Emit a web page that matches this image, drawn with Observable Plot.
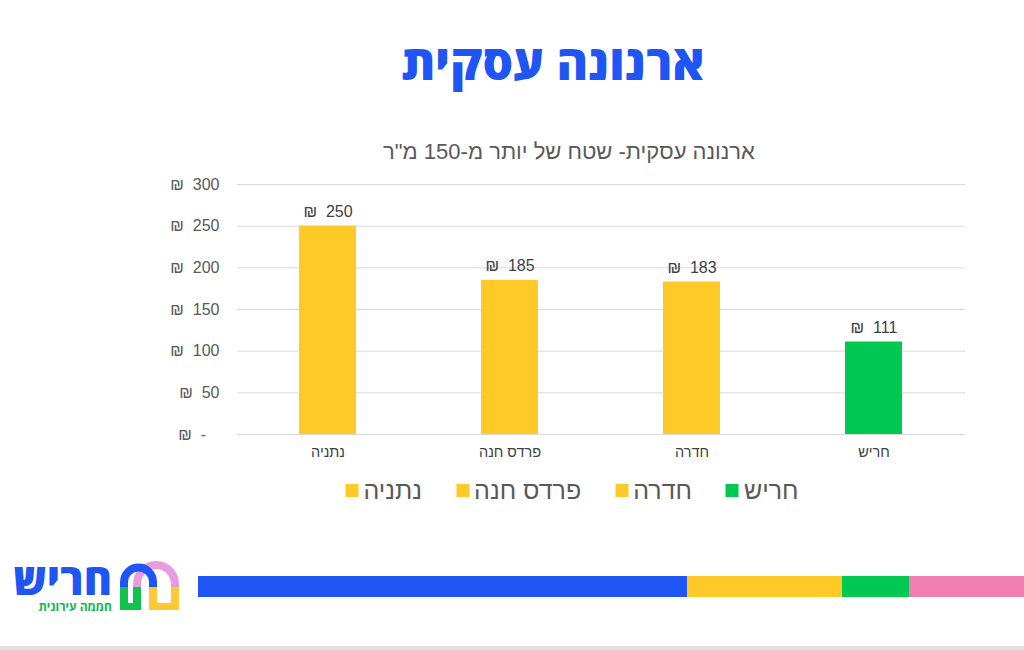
<!DOCTYPE html>
<html lang="he">
<head>
<meta charset="utf-8">
<script src="https://cdn.jsdelivr.net/npm/d3@7"></script>
<script src="https://cdn.jsdelivr.net/npm/@observablehq/plot@0.6"></script>
<style>
  html, body { margin: 0; padding: 0; background: #fff; }
  #page { position: relative; width: 1024px; height: 650px; overflow: hidden; background: #fff; font-family: "Liberation Sans", Arial, sans-serif; }
  #title { position: absolute; top: 29px; left: 553px; transform: translateX(-50%); white-space: nowrap; font-family: "Open Sans", "DejaVu Sans", sans-serif; font-weight: 800; font-size: 48px; color: #1F55F2; direction: rtl; }
  #subtitle { position: absolute; top: 139px; left: 569px; transform: translateX(-50%); white-space: nowrap; font-size: 22px; color: #595959; direction: rtl; }
  #chart { position: absolute; left: 140px; top: 160px; }
  #legend { position: absolute; top: 476px; left: 572px; transform: translateX(-50%); display: flex; direction: rtl; gap: 34px; font-size: 25px; color: #595959; white-space: nowrap; align-items: center; }
  #legend .item { display: flex; align-items: center; gap: 5px; }
  #legend .sw { width: 13px; height: 13px; display: inline-block; }
  #bar { position: absolute; top: 576px; left: 198px; height: 21px; width: 826px; display: flex; }
  #bottomline { position: absolute; left: 0; top: 646px; width: 1024px; height: 4px; background: #e2e2e0; }
  #logo { position: absolute; left: 0; top: 550px; }
</style>
</head>
<body>
<div id="page">
  <div id="title">ארנונה עסקית</div>
  <div id="subtitle">ארנונה עסקית- שטח של יותר מ-150 מ"ר</div>
  <div id="chart"></div>
  <div id="legend"></div>
  <div id="bar"></div>
  <svg id="logo" width="200" height="70" viewBox="0 550 200 70">
    <text x="112" y="595" text-anchor="end" font-family="Open Sans, DejaVu Sans, sans-serif" font-weight="800" font-size="43" fill="#1F55F2">חריש</text>
    <text x="112" y="611" text-anchor="end" font-family="Open Sans, DejaVu Sans, sans-serif" font-weight="700" font-size="12" fill="#12B84A">חממה עירונית</text>
    <path d="M137,600 V584 A19,19 0 0 1 175,584 V600" fill="none" stroke="#E99BE0" stroke-width="8"/>
    <path d="M124,600 V582 A14.5,14.5 0 0 1 153,582 V600" fill="none" stroke="#1F55F2" stroke-width="8"/>
    <path d="M120,587 H128 V603 H133 V587 H141 V610 H120 Z" fill="#12C24E"/>
    <path d="M149,587 H157 V603 H171 V587 H179 V610 H149 Z" fill="#FFC933"/>
  </svg>
  <div id="bottomline"></div>
</div>
<script>
// Data (in original RTL order: rightmost first)
const categories = ["חריש", "חדרה", "פרדס חנה", "נתניה"];
const values = [111, 183, 185, 250];
const barColors = ["#00C853", "#FFCA28", "#FFCA28", "#FFCA28"];
const yTicks = [0, 50, 100, 150, 200, 250, 300];
const footerColors = ["#1F55F2", "#FFCA28", "#00C853", "#F07FB0"];
const footerWidths = [489, 155, 67, 115];

const data = categories.map((c, i) => ({category: c, value: values[i]}));

const chart = Plot.plot({
  width: 840,
  height: 310,
  marginLeft: 97,
  marginRight: 15,
  marginTop: 24,
  marginBottom: 36,
  style: {fontFamily: "Liberation Sans, Arial, sans-serif", fontSize: "16px", color: "#595959", background: "transparent"},
  x: {domain: categories, reverse: true, paddingInner: 0.685, paddingOuter: 0.3425, label: null},
  y: {domain: [0, 300], label: null},
  color: {domain: categories, range: barColors},
  marks: [
    Plot.ruleY(yTicks, {stroke: "#d9d9d9", strokeWidth: 1}),
    Plot.axisY({ticks: yTicks, tickSize: 0, tickPadding: 18, fontSize: 16, fill: "#595959",
      tickFormat: d => d === 0 ? "₪\u00a0\u00a0-\u00a0\u00a0\u00a0" : "₪\u00a0\u00a0" + d}),
    Plot.axisX({tickSize: 0, tickPadding: 12, fontSize: 14.5, fill: "#404040"}),
    Plot.barY(data, {x: "category", y: "value", fill: "category"}),
    Plot.text(data, {x: "category", y: "value", text: d => "₪\u00a0\u00a0" + d.value, dy: -14, fontSize: 16, fill: "#404040"})
  ]
});
document.getElementById("chart").appendChild(chart);

// Legend (RTL: first category at the right)
const legend = document.getElementById("legend");
categories.forEach((c, i) => {
  const item = document.createElement("div");
  item.className = "item";
  const label = document.createElement("span");
  label.textContent = c;
  const sw = document.createElement("span");
  sw.className = "sw";
  sw.style.background = barColors[i];
  item.appendChild(label);
  item.appendChild(sw);
  legend.appendChild(item);
});

// Footer colour bar
const bar = document.getElementById("bar");
footerColors.forEach((col, i) => {
  const seg = document.createElement("div");
  seg.style.background = col;
  seg.style.width = footerWidths[i] + "px";
  seg.style.height = "100%";
  bar.appendChild(seg);
});
</script>
</body>
</html>
